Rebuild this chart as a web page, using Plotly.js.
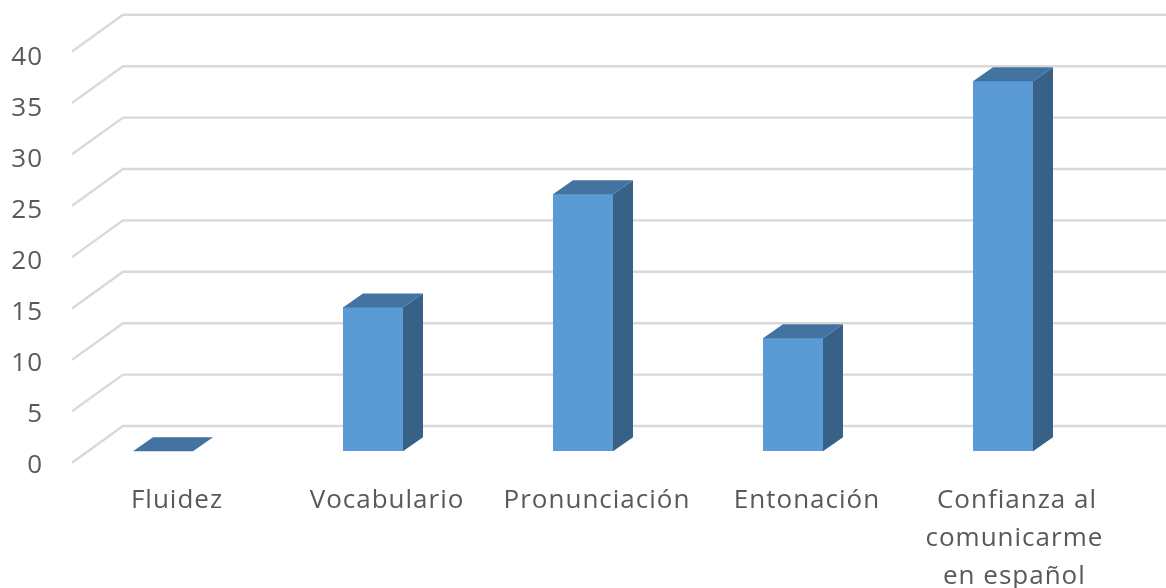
<!DOCTYPE html>
<html>
<head>
<meta charset="utf-8">
<script src="https://cdn.plot.ly/plotly-3.0.1.min.js"></script>
<style>html,body{margin:0;padding:0;background:#fff;overflow:hidden}#c{width:1166px;height:588px;filter:blur(0.7px)}
#c .xtick text,#c .ytick text,#c .annotation-text{letter-spacing:1px}</style>
</head>
<body>
<div id="c"></div>
<script>
const categories = ["Fluidez","Vocabulario","Pronunciación","Entonación","Confianza al"];
const extraLines = [[],[],[],[],["comunicarme","en español"]];
const values = [0,14,25,11,36];
const yTicks = [0,5,10,15,20,25,30,35,40];

const W = 1166, H = 588;
const xOrigin = 163, xUnit = 210;
const toX = p => (p - xOrigin) / xUnit;
const rangeY = (zeroPx, unit) => [-(H - zeroPx) / unit, zeroPx / unit];

const barWidth = 60 / xUnit, barDx = 20 / xUnit, barDy = 14 / 10.28;
const wallDx = 51 / xUnit, wallDy = 36.7 / 10.28;
const wallFrontX = toX(72), wallBackX = wallFrontX + wallDx, wallEndX = toX(W);

const traces = [];
// invisible anchor so the label axis has a subplot of its own
traces.push({x:[0],y:[0],xaxis:'x',yaxis:'y',type:'scatter',mode:'markers',marker:{opacity:0},showlegend:false,hoverinfo:'skip'});
// gridlines: side wall + back wall
yTicks.forEach(v => {
  traces.push({
    x:[wallFrontX, wallBackX, wallEndX], y:[v, v+wallDy, v+wallDy],
    xaxis:'x', yaxis:'y2', type:'scatter', mode:'lines',
    line:{color:'#D9D9D9', width:2.4}, showlegend:false, hoverinfo:'skip'
  });
});
// front faces
traces.push({
  x:categories.map((_,i)=>i), y:values, type:'bar', width:barWidth,
  xaxis:'x', yaxis:'y3', marker:{color:'#5B9BD5', line:{width:0}}, showlegend:false, hoverinfo:'skip'
});
// side and top faces derived from the values
values.forEach((v,i) => {
  const l = i - barWidth/2, r = i + barWidth/2;
  if (v > 0) traces.push({
    x:[r, r+barDx, r+barDx, r, r], y:[0, barDy, v+barDy, v, 0],
    xaxis:'x', yaxis:'y3', type:'scatter', mode:'lines', fill:'toself', fillcolor:'#386188',
    line:{width:0,color:'#386188'}, showlegend:false, hoverinfo:'skip'
  });
  traces.push({
    x:[l, l+barDx, r+barDx, r, l], y:[v, v+barDy, v+barDy, v, v],
    xaxis:'x', yaxis:'y3', type:'scatter', mode:'lines', fill:'toself', fillcolor:'#4273A1',
    line:{width:0,color:'#4273A1'}, showlegend:false, hoverinfo:'skip'
  });
});

const font = {family:'"Open Sans", sans-serif', size:26, color:'#595959'};
const labelShift = 14 / xUnit;
const annotations = [];
extraLines.forEach((lines,i) => lines.forEach((t,k) => {
  annotations.push({x:i+labelShift-3/xUnit, xref:'x', y:1-(536+38*k)/H, yref:'paper', text:t, showarrow:false,
    xanchor:'center', yanchor:'middle', font:font});
}));

const layout = {
  width:W, height:H, margin:{l:0,r:0,t:0,b:0}, paper_bgcolor:'#fff', plot_bgcolor:'#fff',
  showlegend:false, bargap:0,
  xaxis:{range:[toX(0),toX(W)], anchor:'free', position:1-481/H, showgrid:false, zeroline:false, showline:false,
    tickmode:'array', tickvals:categories.map((_,i)=>i+labelShift), ticktext:categories, ticks:'', tickfont:font, fixedrange:true, automargin:false},
  yaxis:{range:rangeY(463.5,10.2), anchor:'free', position:43/W, showgrid:false, zeroline:false, showline:false,
    tickmode:'array', tickvals:yTicks, ticktext:yTicks.map(String), ticks:'', tickfont:font, fixedrange:true, automargin:false},
  yaxis2:{range:rangeY(462.7,10.28), overlaying:'y', visible:false, fixedrange:true},
  yaxis3:{range:rangeY(451.3,10.28), overlaying:'y', visible:false, fixedrange:true},
  annotations:annotations
};
Plotly.newPlot('c', traces, layout, {displayModeBar:false, responsive:false});
</script>
</body>
</html>
